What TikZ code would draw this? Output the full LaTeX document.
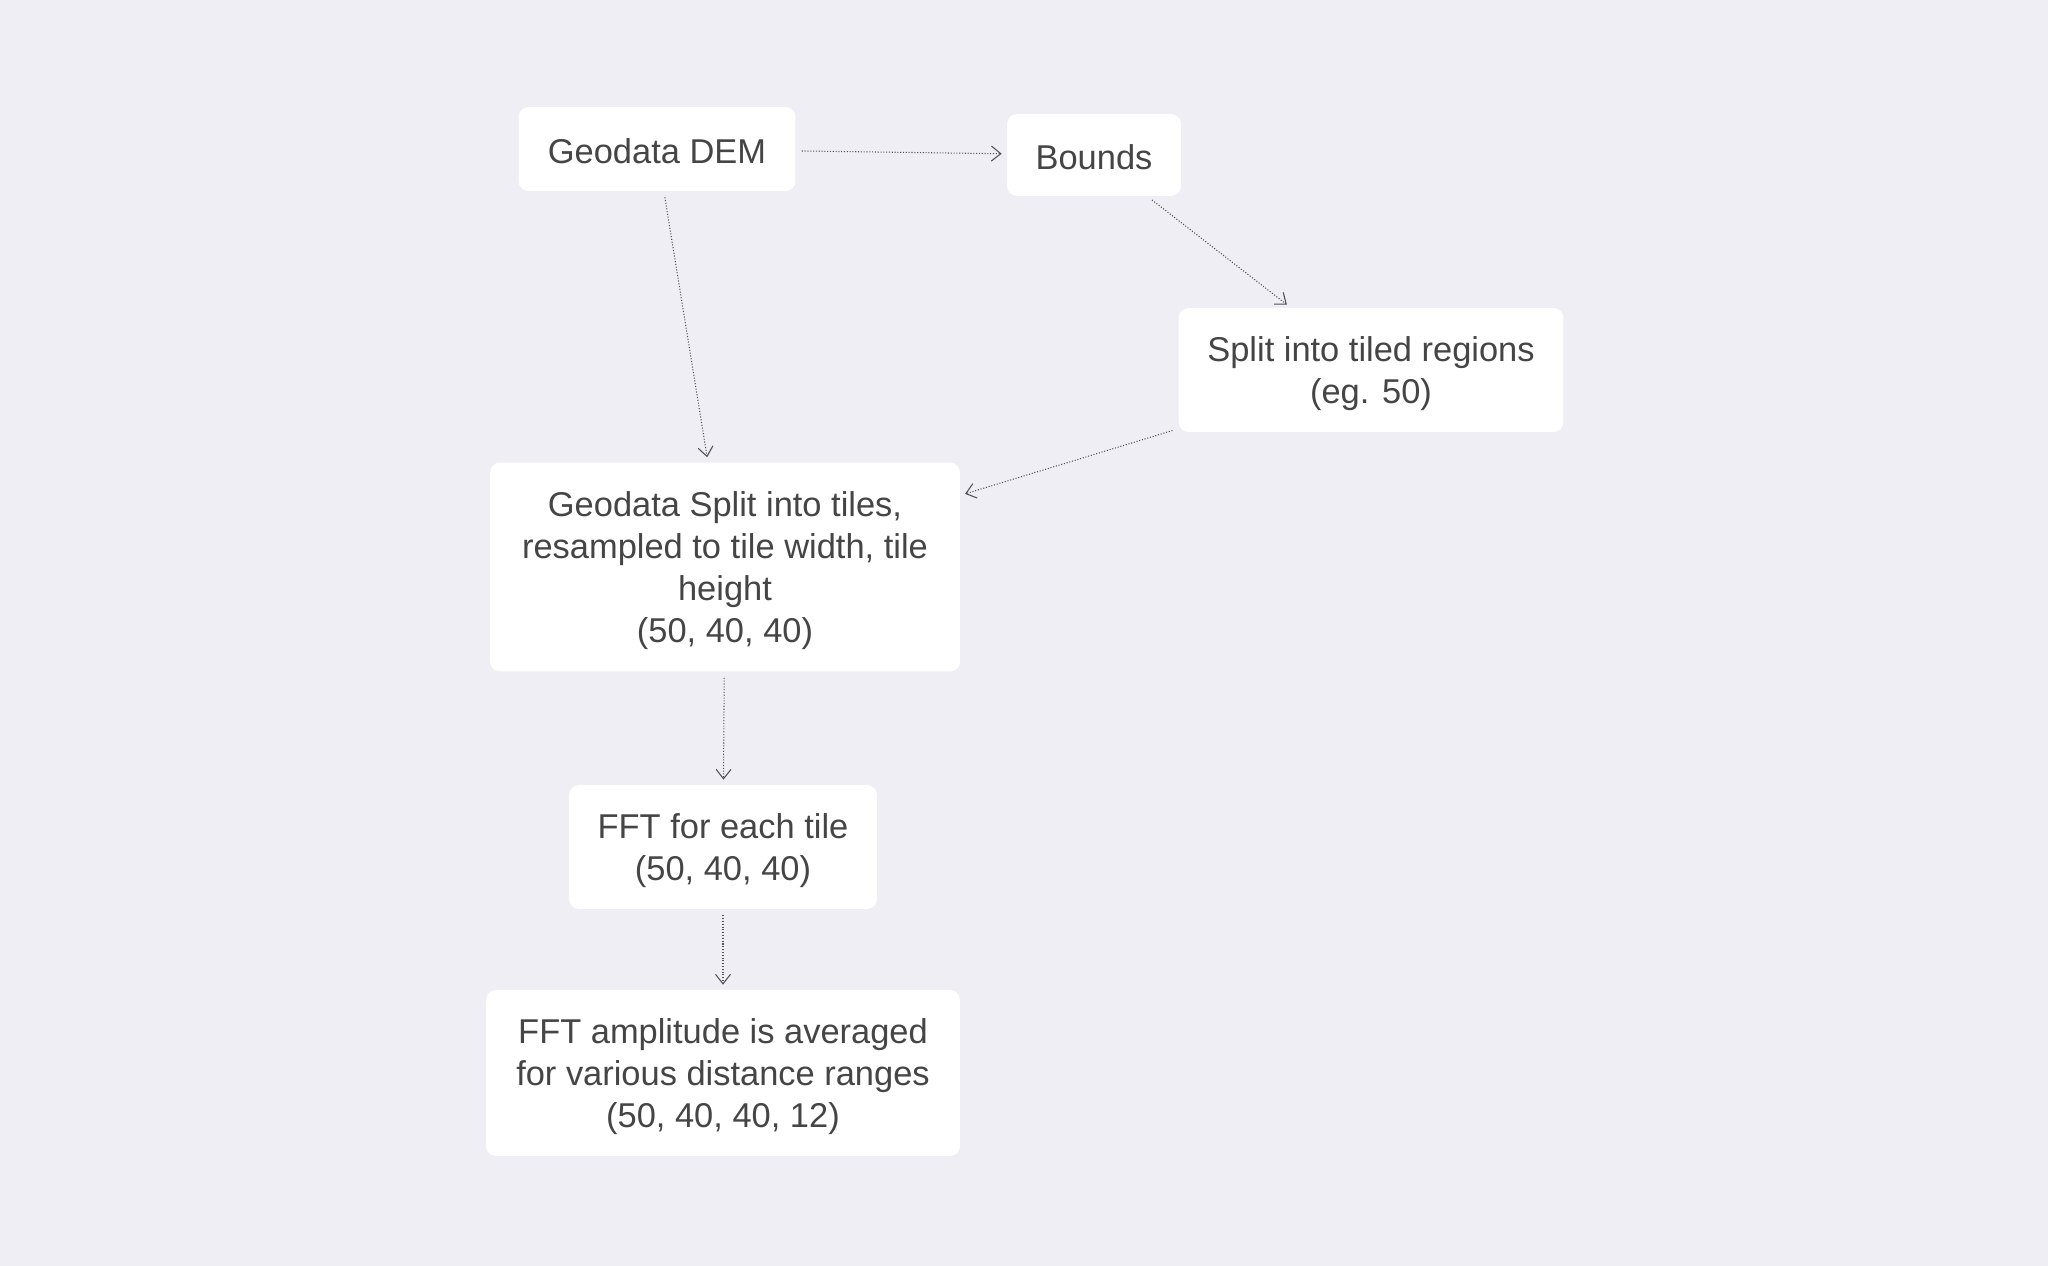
\documentclass[tikz,border=0pt]{standalone}
\usepackage{fontspec}
\setmainfont{Liberation Sans}
\usepackage{xcolor}
\usetikzlibrary{arrows.meta}
\definecolor{bgcol}{HTML}{EEEEF4}
\definecolor{txtcol}{HTML}{454545}
\definecolor{linecol}{HTML}{505054}

\begin{document}
\begin{tikzpicture}[x=0.02cm,y=-0.02cm,
      every node/.style={font=\fontsize{19.6}{23.8}\selectfont,text=txtcol},
      box/.style={fill=white,rounded corners=0.2cm,align=center,inner sep=0pt,
        execute at begin node={\rule{0pt}{20pt}},
        execute at end node={\rule[-4pt]{0pt}{4pt}}},
      multibox/.style={box,text depth=-2pt},
      flow/.style={draw=linecol,line width=0.6pt,densely dotted,
        -{Straight Barb[length=0.19cm,width=0.3cm,line width=0.6pt]},
        shorten <=0.12cm,shorten >=0.1cm}]

      \fill[bgcol] (0,0) rectangle (2048,1266);
      \useasboundingbox (0,0) rectangle (2048,1266);

      \node[box,minimum width=5.54cm,minimum height=1.68cm] (dem) at (657,149) {Geodata DEM};
      \node[box,minimum width=3.48cm,minimum height=1.64cm] (bounds) at (1094,155) {Bounds};
      \node[multibox,minimum width=7.7cm,minimum height=2.48cm] (regions) at (1371,370)
        {Split into tiled regions\\(eg. 50)};
      \node[multibox,minimum width=9.4cm,minimum height=4.18cm] (tiles) at (725,567)
        {Geodata Split into tiles,\\resampled to tile width, tile\\height\\(50, 40, 40)};
      \node[multibox,minimum width=6.16cm,minimum height=2.48cm] (fft) at (723,847)
        {FFT for each tile\\(50, 40, 40)};
      \node[multibox,minimum width=9.48cm,minimum height=3.32cm] (amp) at (723,1073)
        {FFT amplitude is averaged\\for various distance ranges\\(50, 40, 40, 12)};

      \draw[flow] (dem) -- (bounds);
      \draw[flow] (bounds) -- (regions);
      \draw[flow] (dem) -- (tiles);
      \draw[flow] (regions) -- (tiles);
      \draw[flow] (tiles) -- (fft);
      \draw[flow] (fft) -- (amp);
    \end{tikzpicture}
\end{document}
